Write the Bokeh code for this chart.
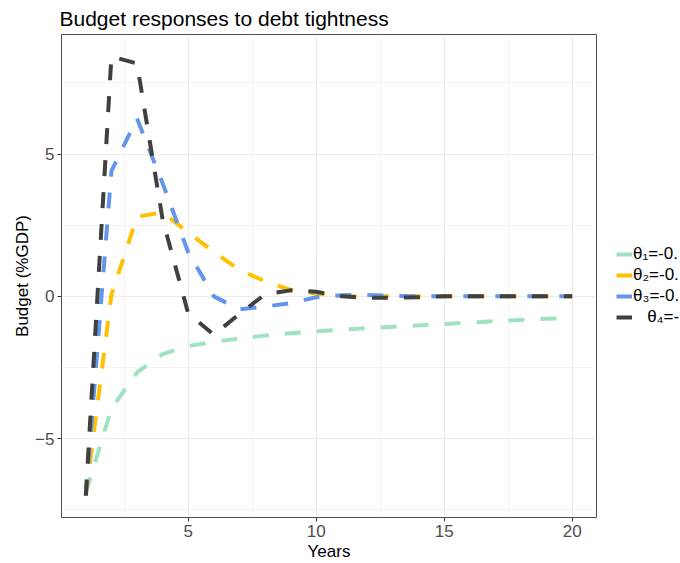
from bokeh.plotting import figure
from bokeh.layouts import row
from bokeh.models import Range1d, FixedTicker, Legend, LegendItem
from bokeh.embed import file_html
from bokeh.resources import INLINE

# ---- data ----
years = list(range(1, 21))
theta1 = [-6.9, -3.95, -2.67, -2.03, -1.75, -1.6, -1.48, -1.38, -1.3, -1.23,
          -1.17, -1.12, -1.07, -1.02, -0.97, -0.92, -0.87, -0.83, -0.79, -0.75]
theta2 = [-7.0, 0.05, 2.8, 2.95, 2.24, 1.56, 0.93, 0.53, 0.23, 0.1,
          0.03, -0.03, 0.02, 0.0, 0.0, 0.0, 0.0, 0.0, 0.0, 0.0]
theta3 = [-7.0, 4.4, 6.25, 3.97, 1.55, 0.0, -0.46, -0.36, -0.24, -0.03,
          0.04, 0.05, 0.02, 0.0, 0.0, 0.0, 0.0, 0.0, 0.0, 0.0]
theta4 = [-7.0, 8.43, 8.18, 2.7, -0.6, -1.35, -0.62, 0.07, 0.21, 0.16,
          0.0, -0.05, -0.05, -0.03, 0.0, 0.0, 0.0, 0.0, 0.0, 0.0]
series = [theta1, theta2, theta3, theta4]
labels = ["θ₁=-0.", "θ₂=-0.", "θ₃=-0.", "\u00a0\u00a0\u00a0θ₄=-"]
colors = ["#9FE2BF", "#FFC000", "#6495ED", "#404040"]

x_major = [5, 10, 15, 20]
x_minor = [2.5, 7.5, 12.5, 17.5]
y_major = [-5, 0, 5]
y_minor = [-7.5, -2.5, 2.5, 7.5]

title_text = "Budget responses to debt tightness"
x_label = "Years"
y_label = "Budget (%GDP)"

# ggplot-like 5% expansion
all_vals = [v for s in series for v in s]
ymin, ymax = min(all_vals), max(all_vals)
ypad = 0.05 * (ymax - ymin)
xpad = 0.05 * (max(years) - min(years))

line_style = dict(line_width=4, line_dash="16 16", line_cap="butt", line_join="round")

p = figure(width=597, height=563,
           output_backend="svg", toolbar_location=None,
           x_range=Range1d(min(years) - xpad, max(years) + xpad),
           y_range=Range1d(ymin - ypad, ymax + ypad),
           min_border_left=61, min_border_right=1,
           min_border_top=33, min_border_bottom=44,
           title=title_text)

p.background_fill_color = "white"
p.border_fill_color = "white"
p.outline_line_color = "#4D4D4D"
p.outline_line_width = 1

p.title.text_font = "Liberation Sans"
p.title.text_font_size = "21px"
p.title.text_font_style = "normal"
p.title.text_color = "black"
p.title.align = "left"
p.title.standoff = 9
p.title.offset = -2

p.xaxis.ticker = FixedTicker(ticks=x_major, minor_ticks=x_minor)
p.yaxis.ticker = FixedTicker(ticks=y_major, minor_ticks=y_minor)

for ax in (p.xaxis, p.yaxis):
    ax.axis_line_color = None
    ax.major_tick_line_color = "#333333"
    ax.major_tick_out = 4
    ax.major_tick_in = 0
    ax.minor_tick_line_color = None
    ax.major_label_text_font = "Liberation Sans"
    ax.major_label_text_font_size = "17px"
    ax.major_label_text_color = "#4D4D4D"
    ax.major_label_standoff = 3
    ax.axis_label_text_font = "Liberation Sans"
    ax.axis_label_text_font_size = "17px"
    ax.axis_label_text_font_style = "normal"
    ax.axis_label_text_color = "black"
    ax.axis_label_standoff = 2

p.xaxis.axis_label = x_label
p.yaxis.axis_label = y_label
p.yaxis.axis_label_standoff = 0

for g in (p.xgrid, p.ygrid):
    g.grid_line_color = "#EBEBEB"
    g.grid_line_width = 1.1
    g.minor_grid_line_color = "#EBEBEB"
    g.minor_grid_line_width = 0.6

for vals, col in zip(series, colors):
    p.line(years, vals, line_color=col, **line_style)

# ---- legend panel (separate narrow figure to the right) ----
# the key renderers hold the same series but this panel's ranges keep them out of view
p2 = figure(width=83, height=563, output_backend="svg", toolbar_location=None,
            x_axis_type=None, y_axis_type=None,
            x_range=Range1d(-200, -199), y_range=Range1d(-200, -199),
            min_border_left=0, min_border_right=0, min_border_top=0, min_border_bottom=0)
p2.outline_line_color = None
p2.xgrid.visible = False
p2.ygrid.visible = False
p2.background_fill_color = "white"
p2.border_fill_color = "white"

key_renderers = [p2.line(years, vals, line_color=col, **line_style)
                 for vals, col in zip(series, colors)]

legend = Legend(items=[LegendItem(label=lab, renderers=[r]) for lab, r in zip(labels, key_renderers)],
                location=(19, 190), border_line_color=None, background_fill_alpha=0,
                padding=0, margin=0, spacing=1, glyph_width=16, glyph_height=20,
                label_height=20, label_standoff=1, label_text_font="Liberation Sans",
                label_text_font_size="17px", label_text_color="black")
p2.add_layout(legend)

layout = row(p, p2, spacing=0)
open("out.html", "w").write(file_html(layout, INLINE))
